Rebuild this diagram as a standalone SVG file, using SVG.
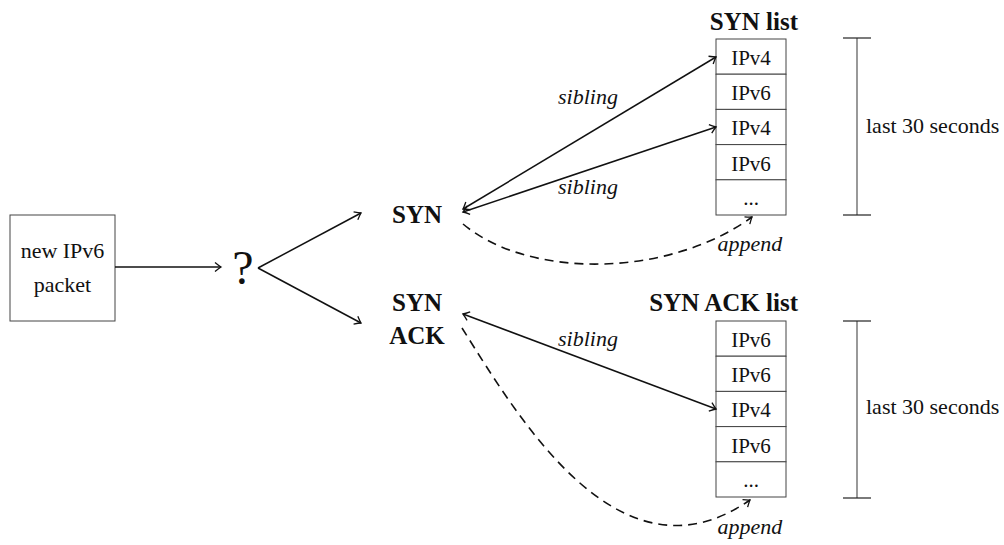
<svg xmlns="http://www.w3.org/2000/svg" width="1004" height="545" viewBox="0 0 1004 545">
<style>
text{font-family:"Liberation Serif","Times New Roman",serif;fill:#111}
.r{font-size:22px}
.rb{font-size:21px}
.b{font-size:25px;font-weight:bold}
.i{font-size:22px;font-style:italic}
.c{text-anchor:middle}
.box{fill:#fff;stroke:#444;stroke-width:1}
.ln{fill:none;stroke:#111;stroke-width:1.5}
.ds{fill:none;stroke:#111;stroke-width:1.6;stroke-dasharray:9 6}
.tk{stroke:#222;stroke-width:1.2}
.vb{stroke:#808080;stroke-width:1.6}
</style>
<defs>
<marker id="ah" markerUnits="userSpaceOnUse" markerWidth="14" markerHeight="14" viewBox="-8 -7 10 14" refX="0" refY="0" orient="auto-start-reverse">
<path d="M-6,-4.5 Q-2,-1.2 0,0 Q-2,1.2 -6,4.5" fill="none" stroke="#111" stroke-width="1.3"/>
</marker>
</defs>
<g id="packet">
<rect class="box" x="10" y="215" width="105" height="106"/>
<text class="r c" x="62.5" y="258">new IPv6</text>
<text class="r c" x="62.5" y="292">packet</text>
</g>
<g id="question">
<text class="c" x="243" y="284" style="font-size:48px">?</text>
</g>
<g id="syn">
<text class="b c" x="417" y="223">SYN</text>
</g>
<g id="synack">
<text class="b c" x="417" y="311">SYN</text>
<text class="b c" x="417" y="344">ACK</text>
</g>
<g id="synlist">
<text class="b" x="798" y="30" style="text-anchor:end">SYN list</text>
<rect class="box" x="716" y="39" width="70" height="35.2"/>
<rect class="box" x="716" y="74.2" width="70" height="35.2"/>
<rect class="box" x="716" y="109.4" width="70" height="35.2"/>
<rect class="box" x="716" y="144.6" width="70" height="35.2"/>
<rect class="box" x="716" y="179.8" width="70" height="35.2"/>
<text class="rb c" x="751" y="65">IPv4</text>
<text class="rb c" x="751" y="100.2">IPv6</text>
<text class="rb c" x="751" y="135.4">IPv4</text>
<text class="rb c" x="751" y="170.6">IPv6</text>
<text class="rb c" x="751" y="205">...</text>
</g>
<g id="synacklist">
<text class="b" x="798" y="311" style="text-anchor:end">SYN ACK list</text>
<rect class="box" x="716" y="321" width="70" height="35.2"/>
<rect class="box" x="716" y="356.2" width="70" height="35.2"/>
<rect class="box" x="716" y="391.4" width="70" height="35.2"/>
<rect class="box" x="716" y="426.6" width="70" height="35.2"/>
<rect class="box" x="716" y="461.8" width="70" height="35.2"/>
<text class="rb c" x="751" y="347">IPv6</text>
<text class="rb c" x="751" y="382.2">IPv6</text>
<text class="rb c" x="751" y="417.4">IPv4</text>
<text class="rb c" x="751" y="452.6">IPv6</text>
<text class="rb c" x="751" y="487">...</text>
</g>
<g id="bracket1">
<line class="vb" x1="857" y1="38" x2="857" y2="215"/>
<line class="tk" x1="843" y1="38" x2="871" y2="38"/>
<line class="tk" x1="843" y1="215" x2="871" y2="215"/>
<text class="r" x="866" y="133">last 30 seconds</text>
</g>
<g id="bracket2">
<line class="vb" x1="857" y1="321" x2="857" y2="498"/>
<line class="tk" x1="843" y1="321" x2="871" y2="321"/>
<line class="tk" x1="843" y1="498" x2="871" y2="498"/>
<text class="r" x="866" y="414">last 30 seconds</text>
</g>
<g id="connectors">
<line class="ln" x1="115" y1="267" x2="221" y2="267" marker-end="url(#ah)"/>
<line class="ln" x1="258" y1="268" x2="361" y2="213" marker-end="url(#ah)"/>
<line class="ln" x1="258" y1="268" x2="361" y2="323" marker-end="url(#ah)"/>
<line class="ln" x1="463" y1="209" x2="716" y2="57" marker-start="url(#ah)" marker-end="url(#ah)"/>
<line class="ln" x1="463" y1="212" x2="716" y2="127" marker-start="url(#ah)" marker-end="url(#ah)"/>
<line class="ln" x1="463" y1="314" x2="716" y2="409" marker-start="url(#ah)" marker-end="url(#ah)"/>
<path class="ds" d="M463,224 C530,280 670,277 752,217" marker-end="url(#ah)"/>
<path class="ds" d="M462,328 C520,420 620,590 750,500" marker-end="url(#ah)"/>
<text class="i c" x="588" y="104">sibling</text>
<text class="i c" x="588" y="194">sibling</text>
<text class="i c" x="588" y="346">sibling</text>
<text class="i c" x="750" y="251">append</text>
<text class="i c" x="750" y="534">append</text>
</g>
</svg>
